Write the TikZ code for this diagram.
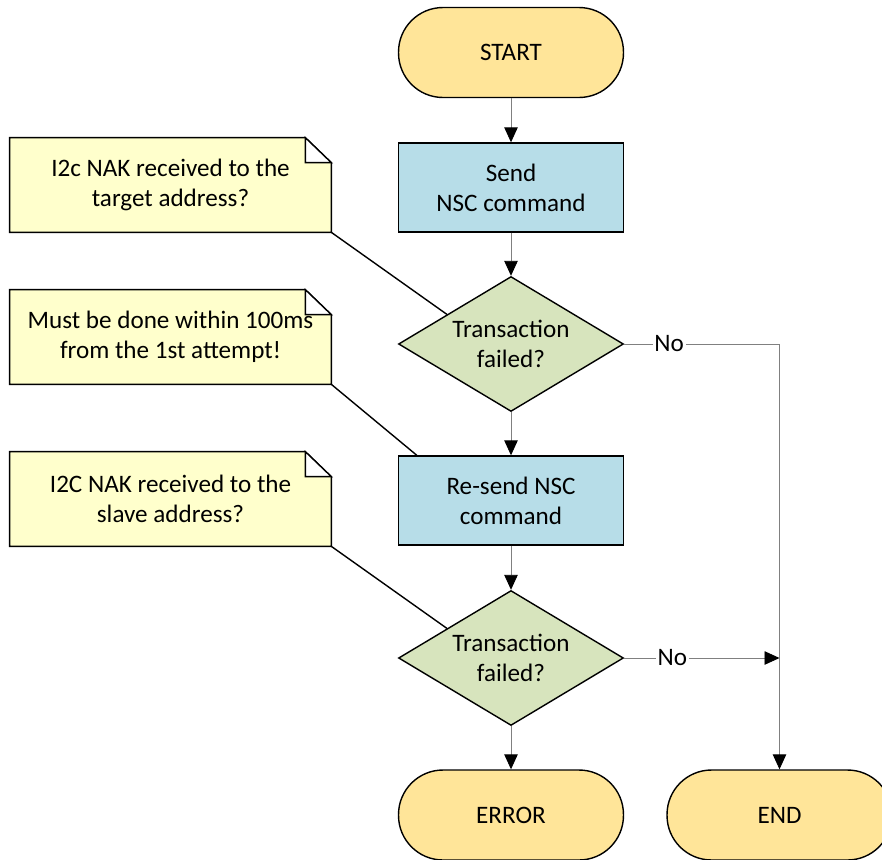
\documentclass[tikz,border=0pt]{standalone}
\usepackage{fontspec}
\setmainfont{Carlito}
\usetikzlibrary{shapes.geometric,arrows.meta,calc,backgrounds}
\definecolor{termfill}{RGB}{255,229,153}
\definecolor{procfill}{RGB}{183,221,232}
\definecolor{decfill}{RGB}{215,228,189}
\definecolor{notefill}{RGB}{255,255,204}
\tikzset{
  term/.style={rectangle, rounded corners=0.89cm, draw=black, line width=0.8pt, fill=termfill, minimum width=4.5cm, minimum height=1.8cm},
  proc/.style={rectangle, draw=black, line width=0.8pt, fill=procfill, minimum width=4.5cm, minimum height=1.78cm, align=center},
  dec/.style={diamond, draw=black, line width=0.8pt, fill=decfill, minimum width=4.5cm, minimum height=2.7cm, aspect=1.67, inner sep=0pt, align=center},
  note/.style={rectangle, minimum width=6.42cm, minimum height=1.88cm, align=center},
  flow/.style={draw=gray, line width=0.5pt, -{Triangle[length=0.3cm,width=0.27cm,color=black]}},
  link/.style={draw=black, line width=0.8pt},
  lbl/.style={fill=white, inner sep=1pt}
}
\begin{document}
\begin{tikzpicture}[x=0.02cm,y=-0.02cm,every node/.style={font=\fontsize{14.3}{17}\selectfont}]
\useasboundingbox (0,0) rectangle (882,859);
% flow chart
\node[term] (start) at (511,52.5) {START};
\node[proc] (send) at (511,187.5) {Send\\NSC command};
\node[dec] (d1) at (511,344) {Transaction\\failed?};
\node[proc] (resend) at (511,500.5) {Re-send NSC\\command};
\node[dec] (d2) at (511,658) {Transaction\\failed?};
\node[term] (error) at (511,815) {ERROR};
\node[term] (end) at (779.5,815) {END};
% notes
\node[note] (n1) at (170.5,185) {I2c NAK received to the\\target address?};
\node[note] (n2) at (170.5,337) {Must be done within 100ms\\from the 1st attempt!};
\node[note] (n3) at (170.5,499) {I2C NAK received to the\\slave address?};
\begin{scope}[on background layer]
\foreach \n in {n1,n2,n3}{
  \draw[line width=0.8pt, fill=notefill] (\n.south west) -- (\n.north west) -- ([xshift=-0.52cm]\n.north east) -- ([yshift=-0.5cm]\n.north east) -- (\n.south east) -- cycle;
  \draw[line width=0.8pt, fill=white] ([xshift=-0.52cm]\n.north east) -- ([xshift=-0.52cm,yshift=-0.5cm]\n.north east) -- ([yshift=-0.5cm]\n.north east) -- cycle;
}
\end{scope}
% connectors
\coordinate (j1) at (end.north |- d1.east);
\coordinate (j2) at (end.north |- d2.east);
\draw[flow] (start) -- (send);
\draw[flow] (send) -- (d1);
\draw[flow] (d1) -- (resend);
\draw[flow] (resend) -- (d2);
\draw[flow] (d2) -- (error);
\draw[flow] (d1.east) -- node[lbl,pos=0.29]{No} (j1) -- (end.north);
\draw[flow] (d2.east) -- node[lbl,pos=0.31]{No} (j2);
\draw[link] (n1.south east) -- ($(d1.west)!0.434!(d1.north)$);
\draw[link] (n2.south east) -- ($(resend.north west)+(19,0)$);
\draw[link] (n3.south east) -- ($(d2.west)!0.434!(d2.north)$);
\end{tikzpicture}
\end{document}
